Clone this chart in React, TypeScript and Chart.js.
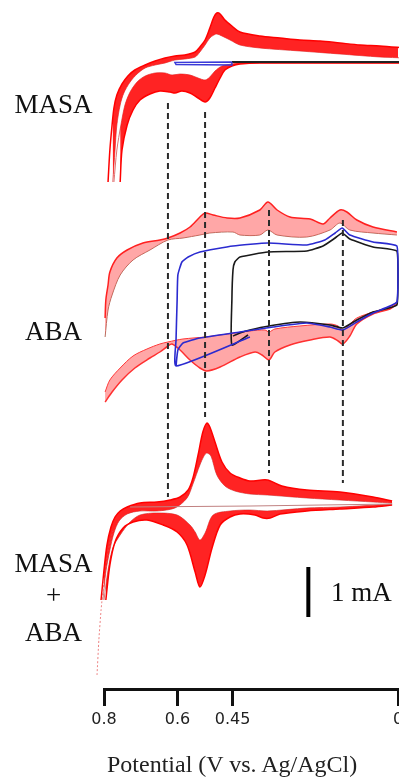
import React, { useEffect, useRef } from "react";
import { Chart, registerables } from "chart.js";

Chart.register(...registerables);

type P = [number, number];

// x axis (potential, V vs. Ag/AgCl)
const V_TICKS = [0.8, 0.6, 0.45, 0];
const TICK_LABELS = ["0.8", "0.6", "0.45", "0"];

// vertical offsets of each stacked voltammogram (mA on the hidden y scale)
const OFFSET_MASA = 12.54;
const OFFSET_ABA = 7.78;
const OFFSET_MIX = 3.66;

// ---- MASA (V, mA) ----
const MASA_UP_OUT: P[] = [[0.789,-2.40],[0.784,-1.76],[0.778,-1.26],[0.773,-0.92],[0.765,-0.66],[0.751,-0.44],[0.735,-0.28],[0.716,-0.16],[0.688,-0.06],[0.661,0.02],[0.634,0.08],[0.607,0.12],[0.580,0.14],[0.552,0.20],[0.539,0.30],[0.525,0.44],[0.512,0.68],[0.501,0.90],[0.493,0.98],[0.484,0.96],[0.471,0.84],[0.452,0.72],[0.430,0.60],[0.376,0.52],[0.321,0.48],[0.267,0.44],[0.212,0.42],[0.158,0.38],[0.103,0.34],[0.049,0.32],[-0.019,0.28]];
const MASA_UP_IN: P[] = [[0.776,-2.40],[0.770,-1.76],[0.765,-1.26],[0.756,-0.86],[0.746,-0.62],[0.729,-0.40],[0.710,-0.24],[0.688,-0.12],[0.661,-0.06],[0.634,-0.02],[0.607,0.04],[0.580,0.06],[0.552,0.10],[0.539,0.20],[0.525,0.34],[0.512,0.48],[0.501,0.54],[0.493,0.56],[0.479,0.52],[0.457,0.44],[0.430,0.34],[0.376,0.28],[0.267,0.22],[0.158,0.16],[0.049,0.10],[-0.019,0.08]];
const MASA_LO_OUT: P[] = [[0.756,-2.40],[0.751,-1.76],[0.737,-1.26],[0.721,-0.96],[0.702,-0.76],[0.675,-0.64],[0.648,-0.58],[0.620,-0.60],[0.607,-0.62],[0.588,-0.58],[0.566,-0.62],[0.544,-0.72],[0.525,-0.80],[0.512,-0.72],[0.498,-0.52],[0.484,-0.32],[0.471,-0.16],[0.452,-0.08],[0.430,-0.04],[0.376,-0.02],[-0.019,-0.02]];
const MASA_LO_IN: P[] = [[0.773,-2.40],[0.765,-1.76],[0.754,-1.26],[0.743,-0.86],[0.729,-0.60],[0.710,-0.40],[0.688,-0.28],[0.661,-0.22],[0.634,-0.22],[0.615,-0.26],[0.593,-0.24],[0.566,-0.26],[0.544,-0.32],[0.525,-0.36],[0.512,-0.30],[0.498,-0.18],[0.479,-0.08],[0.452,-0.04],[0.430,-0.02],[-0.019,-0.02]];
const MASA_BLUE: P[] = [[0.452,0.00],[0.607,-0.01],[0.604,-0.05],[0.452,-0.06],[0.452,0.00]];
const MASA_BLACK: P[] = [[0.452,0.00],[-0.019,0.00]];

// ---- ABA ----
const ABA_UP_OUT: P[] = [[0.797,-0.36],[0.795,0.00],[0.789,0.30],[0.784,0.56],[0.765,0.84],[0.737,1.00],[0.694,1.14],[0.648,1.20],[0.626,1.24],[0.593,1.34],[0.566,1.46],[0.539,1.66],[0.525,1.74],[0.503,1.70],[0.465,1.64],[0.430,1.64],[0.376,1.80],[0.354,1.96],[0.329,1.80],[0.294,1.66],[0.239,1.62],[0.204,1.52],[0.185,1.64],[0.158,1.80],[0.139,1.76],[0.112,1.60],[0.068,1.46],[0.003,1.36]];
const ABA_UP_IN: P[] = [[0.797,-0.74],[0.789,-0.20],[0.778,0.10],[0.756,0.50],[0.721,0.80],[0.675,1.00],[0.626,1.20],[0.585,1.24],[0.539,1.30],[0.512,1.34],[0.449,1.36],[0.430,1.30],[0.376,1.30],[0.354,1.40],[0.329,1.30],[0.248,1.26],[0.185,1.40],[0.158,1.54],[0.131,1.40],[0.068,1.34],[0.003,1.30]];
const ABA_LO_OUT: P[] = [[0.797,-2.04],[0.778,-1.84],[0.751,-1.60],[0.716,-1.36],[0.675,-1.16],[0.648,-1.04],[0.626,-0.92],[0.615,-0.88],[0.593,-1.00],[0.566,-1.20],[0.539,-1.36],[0.520,-1.42],[0.484,-1.34],[0.430,-1.14],[0.389,-1.04],[0.370,-1.10],[0.351,-1.20],[0.335,-1.04],[0.294,-0.90],[0.239,-0.80],[0.185,-0.74],[0.163,-0.82],[0.150,-0.88],[0.131,-0.72],[0.112,-0.48],[0.068,-0.28],[0.022,-0.18],[0.003,-0.08]];
const ABA_LO_IN: P[] = [[0.797,-1.84],[0.784,-1.60],[0.756,-1.36],[0.721,-1.12],[0.683,-0.98],[0.648,-0.88],[0.626,-0.84],[0.585,-0.78],[0.525,-0.74],[0.403,-0.62],[0.362,-0.60],[0.351,-0.64],[0.335,-0.58],[0.267,-0.52],[0.185,-0.48],[0.163,-0.52],[0.150,-0.60],[0.131,-0.48],[0.112,-0.36],[0.068,-0.24],[0.022,-0.14],[0.003,-0.04]];
const ABA_BLUE: P[] = [[0.403,-0.74],[0.604,-1.32],[0.604,-0.80],[0.601,0.00],[0.599,0.50],[0.588,0.76],[0.571,0.86],[0.539,0.96],[0.449,1.08],[0.354,1.14],[0.248,1.10],[0.199,1.20],[0.171,1.34],[0.152,1.44],[0.131,1.30],[0.068,1.16],[0.003,1.08],[0.000,0.60],[0.003,-0.04],[0.068,-0.26],[0.112,-0.44],[0.150,-0.60],[0.185,-0.54],[0.248,-0.46],[0.340,-0.54],[0.430,-0.64],[0.539,-0.76],[0.585,-0.86],[0.599,-1.00],[0.604,-1.32]];
const ABA_BLACK: P[] = [[0.408,-0.70],[0.452,-0.90],[0.452,0.00],[0.449,0.60],[0.444,0.76],[0.430,0.86],[0.354,0.96],[0.248,0.98],[0.204,1.08],[0.171,1.24],[0.152,1.34],[0.131,1.22],[0.068,1.06],[0.003,0.98],[0.000,0.50],[0.003,-0.10],[0.068,-0.24],[0.112,-0.40],[0.150,-0.56],[0.185,-0.50],[0.267,-0.44],[0.351,-0.52],[0.403,-0.60],[0.430,-0.66],[0.449,-0.72]];

// ---- MASA + ABA ----
const MIX_UP_OUT: P[] = [[0.808,-1.88],[0.800,-1.28],[0.792,-0.78],[0.781,-0.42],[0.770,-0.22],[0.756,-0.10],[0.737,-0.02],[0.702,0.06],[0.656,0.08],[0.620,0.12],[0.593,0.18],[0.571,0.32],[0.558,0.56],[0.544,1.02],[0.531,1.48],[0.520,1.66],[0.512,1.58],[0.498,1.28],[0.479,0.88],[0.457,0.66],[0.430,0.56],[0.403,0.50],[0.356,0.52],[0.316,0.40],[0.248,0.32],[0.158,0.28],[0.068,0.18],[0.016,0.10]];
const MIX_UP_IN: P[] = [[0.803,-1.88],[0.795,-1.32],[0.784,-0.88],[0.773,-0.54],[0.759,-0.30],[0.737,-0.16],[0.702,-0.10],[0.656,-0.10],[0.607,-0.04],[0.574,0.16],[0.558,0.44],[0.539,0.82],[0.528,1.00],[0.520,1.06],[0.509,1.00],[0.493,0.62],[0.471,0.40],[0.444,0.30],[0.403,0.24],[0.356,0.22],[0.248,0.16],[0.068,0.08],[0.016,0.06]];
const MIX_LO_OUT: P[] = [[0.795,-1.88],[0.784,-1.18],[0.770,-0.72],[0.748,-0.44],[0.721,-0.32],[0.683,-0.28],[0.639,-0.38],[0.601,-0.52],[0.574,-0.78],[0.552,-1.32],[0.539,-1.62],[0.525,-1.38],[0.506,-0.84],[0.484,-0.38],[0.457,-0.22],[0.430,-0.16],[0.389,-0.18],[0.367,-0.24],[0.348,-0.24],[0.321,-0.16],[0.248,-0.10],[0.158,-0.06],[0.068,-0.02],[0.016,0.02]];
const MIX_LO_IN: P[] = [[0.800,-1.88],[0.789,-1.28],[0.776,-0.84],[0.756,-0.58],[0.729,-0.32],[0.702,-0.18],[0.656,-0.14],[0.601,-0.18],[0.566,-0.38],[0.552,-0.52],[0.539,-0.68],[0.525,-0.54],[0.503,-0.18],[0.457,-0.10],[0.403,-0.08],[0.356,-0.10],[0.248,-0.04],[0.158,-0.02],[0.016,0.04]];
const MIX_FLAT: P[] = [[0.729,-0.02],[0.400,0.00],[0.016,0.04]];
const MIX_TAIL: P[] = [[0.819,-3.38],[0.814,-2.68],[0.808,-2.08],[0.800,-1.50],[0.789,-0.90],[0.776,-0.50]];

// dashed guide lines: potentials and their extent on the stacked scale
const DASH_V = [0.626, 0.525, 0.351, 0.150];
const DASH_TOP = [11.72, 11.54, 9.58, 9.38];
const DASH_BOTTOM = [3.84, 5.44, 4.32, 4.12];

// 1 mA scale bar
const BAR_V = 0.244;
const BAR_FROM = 1.44;
const BAR_MA = 1;

const Y_MAX = 13.78;

const toXY = (pts: P[], off: number) => pts.map(([x, y]) => ({ x, y: y + off }));

function band(out: P[], inn: P[], off: number, fill: string, outColor: string, inColor: string) {
  return [
    { data: toXY(out, off), borderColor: outColor, borderWidth: 1.5, backgroundColor: fill, fill: "+1", order: 3, tension: 0.3, clip: false },
    { data: toXY(inn, off), borderColor: inColor, borderWidth: 1, fill: false, order: 3, tension: 0.3, clip: false },
  ];
}

function line(pts: P[], off: number, color: string, width: number, extra: any = {}) {
  return { data: toXY(pts, off), borderColor: color, borderWidth: width, fill: false, order: 2, tension: 0.15, clip: false, ...extra };
}

export default function App() {
  const ref = useRef<HTMLCanvasElement | null>(null);

  useEffect(() => {
    if (!ref.current) return;
    const datasets: any[] = [
      ...band(MASA_UP_OUT, MASA_UP_IN, OFFSET_MASA, "rgba(255,16,16,0.92)", "#ff0000", "#e07070"),
      ...band(MASA_LO_OUT, MASA_LO_IN, OFFSET_MASA, "rgba(255,16,16,0.92)", "#ff0000", "#e07070"),
      line(MASA_BLUE, OFFSET_MASA, "#3a3ad8", 1.5, { backgroundColor: "rgba(140,140,255,0.6)", fill: true, tension: 0 }),
      line(MASA_BLACK, OFFSET_MASA, "#222222", 2, { tension: 0 }),
      ...band(ABA_UP_OUT, ABA_UP_IN, OFFSET_ABA, "rgba(255,80,80,0.5)", "#ff2020", "#b07060"),
      ...band(ABA_LO_OUT, ABA_LO_IN, OFFSET_ABA, "rgba(255,80,80,0.5)", "#ff3030", "#ff3030"),
      line(ABA_BLUE, OFFSET_ABA, "#2b2bd0", 1.6),
      line(ABA_BLACK, OFFSET_ABA, "#1a1a1a", 1.6),
      ...band(MIX_UP_OUT, MIX_UP_IN, OFFSET_MIX, "rgba(255,16,16,0.92)", "#ff0000", "#d08080"),
      ...band(MIX_LO_OUT, MIX_LO_IN, OFFSET_MIX, "rgba(255,16,16,0.92)", "#ff0000", "#d08080"),
      line(MIX_FLAT, OFFSET_MIX, "#c08080", 1, { tension: 0 }),
      line(MIX_TAIL, OFFSET_MIX, "rgba(230,80,80,0.7)", 1, { borderDash: [2, 2] }),
      ...DASH_V.map((v, i) => ({
        data: [{ x: v, y: DASH_TOP[i] }, { x: v, y: DASH_BOTTOM[i] }],
        borderColor: "#2a2a2a", borderWidth: 2, borderDash: [6, 4], fill: false, order: 1, clip: false,
      })),
      {
        data: [{ x: BAR_V, y: BAR_FROM }, { x: BAR_V, y: BAR_FROM + BAR_MA }],
        borderColor: "#000", borderWidth: 4, fill: false, order: 0, clip: false,
      },
    ];

    const chart = new Chart(ref.current, {
      type: "line",
      data: { datasets },
      options: {
        animation: false,
        responsive: false,
        events: [],
        layout: { padding: { left: 104, right: 42, top: 0, bottom: 0 } },
        plugins: { legend: { display: false }, tooltip: { enabled: false } },
        elements: { point: { radius: 0 } },
        scales: {
          x: {
            type: "linear",
            reverse: true,
            min: 0,
            max: 0.8,
            position: "bottom",
            afterBuildTicks: (s: any) => { s.ticks = V_TICKS.map((v) => ({ value: v })); },
            afterFit: (s: any) => { s.height = 89; },
            ticks: {
              callback: (_v: any, i: number) => TICK_LABELS[i],
              font: { family: "DejaVu Sans", size: 16 },
              color: "#222",
              padding: 4,
              maxRotation: 0,
              autoSkip: false,
            },
            grid: { drawOnChartArea: false, drawTicks: true, tickLength: 17, tickWidth: 3, tickColor: "#111" },
            border: { display: true, color: "#111", width: 3 },
          },
          y: { type: "linear", display: false, min: 0, max: Y_MAX },
        },
      } as any,
    });
    return () => chart.destroy();
  }, []);

  const serif = "'Liberation Serif', 'Times New Roman', serif";
  const lab = (text: string, top: number): React.CSSProperties => ({
    position: "absolute", left: 0, width: 107, top, textAlign: "center",
    fontFamily: serif, fontSize: 27, lineHeight: "27px", color: "#111", whiteSpace: "nowrap",
  });

  return (
    <div style={{ position: "fixed", left: 0, top: 0, width: 399, height: 778, overflow: "hidden", background: "#fff" }}>
      <canvas ref={ref} width={440} height={778} style={{ position: "absolute", left: 0, top: 0, width: 440, height: 778 }} />
      <div style={lab("MASA", 91)}>MASA</div>
      <div style={lab("ABA", 318)}>ABA</div>
      <div style={lab("MASA", 550)}>MASA</div>
      <div style={lab("+", 582)}>+</div>
      <div style={lab("ABA", 619)}>ABA</div>
      <div style={{ position: "absolute", left: 331, top: 579, fontFamily: serif, fontSize: 27, lineHeight: "27px", color: "#111", whiteSpace: "nowrap" }}>1 mA</div>
      <div style={{ position: "absolute", left: 107, top: 752, fontFamily: serif, fontSize: 24, lineHeight: "24px", color: "#222", whiteSpace: "nowrap" }}>Potential (V vs. Ag/AgCl)</div>
    </div>
  );
}
